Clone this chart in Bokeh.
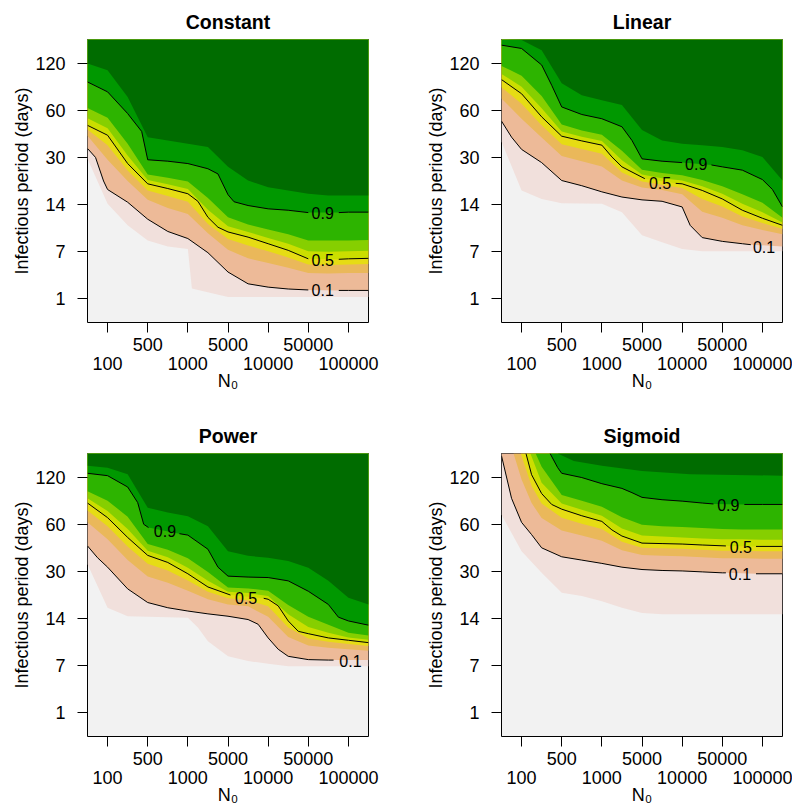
from bokeh.plotting import figure
from bokeh.models import Range1d, FixedTicker, LinearAxis
from bokeh.layouts import gridplot
from bokeh.core.properties import value
from bokeh.embed import file_html
from bokeh.resources import INLINE

FONT = "Liberation Sans"
X_MIN, X_MAX, Y_MIN, Y_MAX = 0.5, 7.5, 0.5, 6.5

# ---------------- data ----------------
n0_ticks = [1, 2, 3, 4, 5, 6, 7]
n0_labels = ["100", "500", "1000", "5000", "10000", "50000", "100000"]
period_ticks = [1, 2, 3, 4, 5, 6]
period_labels = ["1", "7", "14", "30", "60", "120"]
titles = ["Constant", "Linear", "Power", "Sigmoid"]

# probability levels whose boundaries were traced, and the fill above each
levels = [0.02, 0.1, 0.3, 0.4, 0.5, 0.6, 0.7, 0.9, 0.97]
level_colors = ["#F1E0DC", "#EDBA98", "#EAB85A", "#E6DC14", "#CBDE00",
                "#86CF00", "#2DB400", "#009800", "#006C00"]
contour_levels = [0.1, 0.5, 0.9]
contour_texts = ["0.1", "0.5", "0.9"]

knots = [0.5, 1.0, 1.5, 2.0, 2.5, 3.0, 3.5, 4.0, 4.5, 5.0, 5.5, 6.0, 6.5, 7.0, 7.5]

# --- Constant ---
const_002_x = [0.5, 1.0, 1.5, 2.0, 2.5, 3.0, 3.1, 3.6, 4.0, 7.5]
const_002_y = [3.97, 3.02, 2.56, 2.24, 2.11, 2.06, 1.22, 1.12, 1.04, 1.04]
const_01_x = [0.5, 0.7, 0.9, 1.0, 1.5, 2.0, 2.5, 3.0, 3.5, 4.0, 4.5, 5.0, 5.5, 6.0, 6.76, 7.0, 7.5]
const_01_y = [4.19, 4.00, 3.50, 3.32, 3.05, 2.69, 2.43, 2.28, 1.98, 1.57, 1.32, 1.25, 1.21, 1.19, 1.18, 1.18, 1.18]
const_03_y = [4.46, 3.95, 3.50, 3.10, 2.93, 2.80, 2.39, 2.04, 1.86, 1.76, 1.66, 1.55, 1.54, 1.55, 1.55]
const_04_y = [4.59, 4.26, 3.72, 3.30, 3.18, 3.06, 2.59, 2.27, 2.13, 2.01, 1.88, 1.73, 1.72, 1.73, 1.74]
const_05_x = [0.5, 1.0, 1.5, 2.0, 2.5, 3.0, 3.25, 3.5, 3.75, 4.0, 4.5, 5.0, 5.5, 6.0, 6.76, 7.0, 7.5]
const_05_y = [4.68, 4.47, 3.87, 3.44, 3.34, 3.23, 3.07, 2.73, 2.52, 2.42, 2.31, 2.17, 2.03, 1.85, 1.84, 1.85, 1.86]
const_06_y = [4.83, 4.62, 4.04, 3.52, 3.43, 3.33, 2.89, 2.54, 2.42, 2.29, 2.17, 2.01, 2.00, 2.01, 2.02]
const_07_y = [5.05, 4.84, 4.29, 3.64, 3.57, 3.49, 3.14, 2.73, 2.58, 2.47, 2.37, 2.24, 2.24, 2.24, 2.25]
const_09_x = [0.5, 1.0, 1.5, 1.85, 2.0, 2.5, 3.0, 3.5, 3.75, 4.0, 4.15, 4.5, 5.0, 5.5, 6.0, 6.76, 7.0, 7.5]
const_09_y = [5.60, 5.39, 4.93, 4.55, 3.95, 3.92, 3.87, 3.76, 3.65, 3.21, 3.06, 2.98, 2.91, 2.88, 2.83, 2.83, 2.84, 2.84]
const_097_y = [5.99, 5.85, 5.28, 4.43, 4.36, 4.29, 4.22, 3.80, 3.51, 3.37, 3.30, 3.23, 3.19, 3.19, 3.19]
const_label_x = [6.36, 6.36, 6.36]
const_label_y = [1.18, 1.83, 2.82]
const_gap_from = [6.0, 6.0, 6.0]
const_gap_to = [6.76, 6.76, 6.76]

# --- Linear ---
lin_002_x = [0.5, 1.0, 1.5, 2.0, 3.0, 3.5, 4.0, 4.5, 5.0, 5.5, 7.5]
lin_002_y = [4.33, 3.30, 3.12, 3.03, 3.02, 2.84, 2.35, 2.20, 2.06, 2.01, 2.01]
lin_01_x = [0.5, 0.75, 1.0, 1.5, 2.0, 2.5, 3.0, 3.5, 4.0, 4.5, 5.0, 5.2, 5.5, 6.0, 6.5, 6.71, 7.5]
lin_01_y = [4.77, 4.43, 4.17, 3.89, 3.51, 3.40, 3.27, 3.16, 3.10, 3.07, 2.95, 2.56, 2.30, 2.22, 2.17, 2.15, 2.11]
lin_03_y = [5.25, 4.82, 4.42, 4.03, 3.92, 3.81, 3.51, 3.36, 3.31, 3.22, 2.85, 2.72, 2.56, 2.46, 2.37]
lin_04_y = [5.49, 5.14, 4.68, 4.28, 4.18, 4.08, 3.68, 3.49, 3.42, 3.35, 3.12, 2.96, 2.75, 2.61, 2.48]
lin_05_x = [0.5, 1.0, 1.5, 2.0, 2.5, 3.0, 3.25, 3.5, 4.0, 4.07, 4.84, 5.0, 5.5, 6.0, 6.5, 7.0, 7.5]
lin_05_y = [5.65, 5.35, 4.86, 4.45, 4.35, 4.26, 4.01, 3.80, 3.58, 3.55, 3.45, 3.44, 3.30, 3.12, 2.88, 2.71, 2.56]
lin_06_y = [5.77, 5.50, 5.04, 4.55, 4.44, 4.35, 3.94, 3.64, 3.56, 3.51, 3.39, 3.23, 3.02, 2.84, 2.62]
lin_07_y = [5.94, 5.73, 5.30, 4.70, 4.57, 4.48, 4.14, 3.74, 3.67, 3.62, 3.52, 3.39, 3.22, 3.04, 2.72]
lin_09_x = [0.5, 1.0, 1.5, 1.75, 2.0, 2.5, 3.0, 3.5, 3.75, 4.0, 4.5, 5.0, 5.73, 6.0, 6.5, 7.0, 7.25, 7.5]
lin_09_y = [6.38, 6.31, 5.96, 5.53, 5.07, 4.91, 4.82, 4.65, 4.36, 3.97, 3.92, 3.89, 3.84, 3.80, 3.73, 3.53, 3.32, 2.95]
lin_097_y = [6.50, 6.49, 6.27, 5.57, 5.32, 5.21, 5.11, 4.58, 4.36, 4.29, 4.26, 4.22, 4.15, 4.01, 3.51]
lin_label_x = [7.04, 4.45, 5.35]
lin_label_y = [2.11, 3.46, 3.85]
lin_gap_from = [6.71, 4.07, 5.0]
lin_gap_to = [7.5, 4.84, 5.73]

# --- Power ---
pow_002_x = [0.5, 1.0, 1.5, 3.0, 3.25, 3.5, 4.0, 4.5, 5.0, 5.5, 7.5]
pow_002_y = [4.15, 3.23, 3.05, 3.02, 2.81, 2.52, 2.20, 2.10, 2.04, 1.99, 1.99]
pow_01_x = [0.5, 0.75, 1.0, 1.5, 2.0, 2.5, 3.0, 3.5, 4.0, 4.5, 4.75, 5.0, 5.25, 5.5, 6.0, 6.5, 6.63, 7.5]
pow_01_y = [4.54, 4.29, 4.09, 3.63, 3.34, 3.23, 3.16, 3.10, 3.05, 2.98, 2.88, 2.59, 2.35, 2.20, 2.13, 2.12, 2.12, 2.12]
pow_03_y = [5.04, 4.68, 4.24, 3.89, 3.76, 3.59, 3.41, 3.30, 3.26, 3.04, 2.61, 2.43, 2.38, 2.35, 2.32]
pow_04_y = [5.29, 4.96, 4.53, 4.16, 4.02, 3.81, 3.57, 3.43, 3.39, 3.26, 2.81, 2.58, 2.51, 2.46, 2.42]
pow_05_x = [0.5, 1.0, 1.5, 2.0, 2.5, 3.0, 3.5, 4.06, 4.89, 5.0, 5.25, 5.5, 5.75, 6.0, 6.5, 7.0, 7.5]
pow_05_y = [5.45, 5.14, 4.72, 4.34, 4.19, 3.95, 3.67, 3.50, 3.43, 3.41, 3.27, 2.95, 2.73, 2.68, 2.59, 2.54, 2.49]
pow_06_y = [5.55, 5.28, 4.90, 4.44, 4.30, 4.08, 3.80, 3.57, 3.54, 3.48, 3.09, 2.82, 2.70, 2.60, 2.55]
pow_07_y = [5.70, 5.50, 5.16, 4.58, 4.46, 4.28, 3.99, 3.66, 3.64, 3.59, 3.29, 3.04, 2.87, 2.70, 2.64]
pow_09_x = [0.5, 1.0, 1.5, 1.75, 1.9, 2.02, 2.79, 3.0, 3.5, 3.75, 4.0, 4.5, 5.0, 5.5, 6.0, 6.5, 6.75, 7.0, 7.5]
pow_09_y = [6.08, 6.03, 5.79, 5.46, 5.00, 4.93, 4.80, 4.77, 4.47, 4.09, 3.90, 3.88, 3.87, 3.80, 3.58, 3.30, 3.03, 2.95, 2.86]
pow_097_y = [6.24, 6.20, 6.06, 5.35, 5.25, 5.17, 4.96, 4.43, 4.33, 4.29, 4.22, 4.08, 3.80, 3.44, 3.30]
pow_label_x = [7.05, 4.45, 2.43]
pow_label_y = [2.10, 3.44, 4.86]
pow_gap_from = [6.63, 4.06, 2.02]
pow_gap_to = [7.5, 4.89, 2.79]

# --- Sigmoid ---
sig_002_y = [5.20, 4.43, 3.97, 3.55, 3.48, 3.37, 3.23, 3.12, 3.09, 3.09, 3.09, 3.09, 3.09, 3.09, 3.09]
sig_01_x = [0.5, 0.75, 1.0, 1.25, 1.5, 2.0, 2.5, 3.0, 3.5, 4.0, 4.5, 5.0, 5.5, 6.0, 6.09, 6.84, 7.5]
sig_01_y = [6.45, 5.55, 5.04, 4.78, 4.50, 4.31, 4.24, 4.17, 4.09, 4.04, 4.02, 4.01, 3.99, 3.97, 3.97, 3.95, 3.95]
sig_03_x = [0.8, 1.0, 1.25, 1.5, 2.0, 2.5, 3.0, 3.5, 4.0, 4.5, 5.0, 5.5, 6.0, 6.5, 7.0, 7.5]
sig_03_y = [6.50, 5.95, 5.45, 5.13, 4.87, 4.76, 4.65, 4.45, 4.35, 4.33, 4.32, 4.30, 4.28, 4.28, 4.27, 4.27]
sig_04_x = [0.98, 1.25, 1.5, 2.0, 2.5, 3.0, 3.5, 4.0, 4.5, 5.0, 5.5, 6.0, 6.5, 7.0, 7.5]
sig_04_y = [6.50, 5.81, 5.44, 5.14, 5.01, 4.90, 4.63, 4.50, 4.49, 4.48, 4.46, 4.44, 4.44, 4.43, 4.43]
sig_05_x = [1.11, 1.25, 1.5, 1.75, 2.0, 2.5, 3.0, 3.25, 3.5, 4.0, 4.5, 5.0, 5.5, 6.09, 6.84, 7.5]
sig_05_y = [6.50, 6.05, 5.65, 5.42, 5.32, 5.18, 5.06, 4.88, 4.75, 4.60, 4.59, 4.58, 4.56, 4.54, 4.53, 4.53]
sig_06_x = [1.22, 1.5, 2.0, 2.5, 3.0, 3.5, 4.0, 4.5, 5.0, 5.5, 6.0, 6.5, 7.0, 7.5]
sig_06_y = [6.50, 5.88, 5.44, 5.31, 5.18, 4.91, 4.76, 4.74, 4.72, 4.70, 4.68, 4.68, 4.67, 4.67]
sig_07_x = [1.35, 1.5, 2.0, 2.5, 3.0, 3.5, 4.0, 4.5, 5.0, 5.5, 6.0, 6.5, 7.0, 7.5]
sig_07_y = [6.50, 6.22, 5.62, 5.50, 5.37, 5.15, 4.99, 4.96, 4.94, 4.92, 4.90, 4.89, 4.89, 4.89]
sig_09_x = [1.71, 1.9, 2.0, 2.5, 3.0, 3.5, 3.75, 4.0, 4.5, 5.0, 5.5, 5.78, 6.55, 7.0, 7.5]
sig_09_y = [6.50, 6.20, 6.08, 5.99, 5.86, 5.76, 5.67, 5.57, 5.52, 5.49, 5.45, 5.43, 5.42, 5.42, 5.42]
sig_097_x = [1.9, 2.3, 3.0, 4.0, 5.2, 7.5]
sig_097_y = [6.50, 6.34, 6.24, 6.13, 6.06, 6.03]
sig_label_x = [6.44, 6.46, 6.15]
sig_label_y = [3.94, 4.52, 5.40]
sig_gap_from = [6.09, 6.09, 5.78]
sig_gap_to = [6.84, 6.84, 6.55]

panels = [
    dict(curves=[(const_002_x, const_002_y), (const_01_x, const_01_y), (knots, const_03_y),
                 (knots, const_04_y), (const_05_x, const_05_y), (knots, const_06_y),
                 (knots, const_07_y), (const_09_x, const_09_y), (knots, const_097_y)],
         lx=const_label_x, ly=const_label_y, g0=const_gap_from, g1=const_gap_to),
    dict(curves=[(lin_002_x, lin_002_y), (lin_01_x, lin_01_y), (knots, lin_03_y),
                 (knots, lin_04_y), (lin_05_x, lin_05_y), (knots, lin_06_y),
                 (knots, lin_07_y), (lin_09_x, lin_09_y), (knots, lin_097_y)],
         lx=lin_label_x, ly=lin_label_y, g0=lin_gap_from, g1=lin_gap_to),
    dict(curves=[(pow_002_x, pow_002_y), (pow_01_x, pow_01_y), (knots, pow_03_y),
                 (knots, pow_04_y), (pow_05_x, pow_05_y), (knots, pow_06_y),
                 (knots, pow_07_y), (pow_09_x, pow_09_y), (knots, pow_097_y)],
         lx=pow_label_x, ly=pow_label_y, g0=pow_gap_from, g1=pow_gap_to),
    dict(curves=[(knots, sig_002_y), (sig_01_x, sig_01_y), (sig_03_x, sig_03_y),
                 (sig_04_x, sig_04_y), (sig_05_x, sig_05_y), (sig_06_x, sig_06_y),
                 (sig_07_x, sig_07_y), (sig_09_x, sig_09_y), (sig_097_x, sig_097_y)],
         lx=sig_label_x, ly=sig_label_y, g0=sig_gap_from, g1=sig_gap_to),
]

# ---------------- layout (pixels) ----------------
FRAME_W, FRAME_H = 281, 283


def style_axis(ax):
    ax.axis_line_color = None
    ax.major_tick_in = 0
    ax.major_tick_line_color = "black"
    ax.minor_tick_line_color = None
    ax.major_label_text_font = FONT
    ax.major_label_text_font_size = "18px"
    ax.major_label_text_color = "black"
    ax.axis_label_text_font = FONT
    ax.axis_label_text_font_size = "18px"
    ax.axis_label_text_font_style = "normal"
    ax.axis_label_text_color = "black"


figs = []
for i, spec in enumerate(panels):
    col, row = i % 2, i // 2
    left = 87 if col == 0 else 80
    right = 53 if col == 0 else 10
    top = 39 if row == 0 else 38
    bottom = 93 if row == 0 else 72

    p = figure(width=left + FRAME_W + right, height=top + FRAME_H + bottom,
               x_range=Range1d(X_MIN, X_MAX), y_range=Range1d(Y_MIN, Y_MAX),
               output_backend="svg", toolbar_location=None,
               min_border_left=left, min_border_right=right,
               min_border_top=top, min_border_bottom=bottom,
               title=titles[i])
    p.background_fill_color = "#F2F2F2"
    p.border_fill_color = "white"
    p.outline_line_color = "black"
    p.outline_line_width = 1
    p.xgrid.visible = False
    p.ygrid.visible = False

    p.title.align = "center"
    p.title.text_font = FONT
    p.title.text_font_size = "19.5px"
    p.title.text_font_style = "bold"
    p.title.text_color = "black"
    p.title.standoff = 13

    # filled probability bands, low to high
    for (xs, ys), colr in zip(spec["curves"], level_colors):
        px = list(xs) + [X_MAX, xs[0]]
        py = list(ys) + [Y_MAX, Y_MAX]
        p.patch(px, py, fill_color=colr, line_color=None)

    # contour lines 0.1, 0.5, 0.9 with a gap for their labels
    for k, lev in enumerate(contour_levels):
        xs, ys = spec["curves"][levels.index(lev)]
        g0, g1 = spec["g0"][k], spec["g1"][k]
        pieces_x, pieces_y = [], []
        a = [(x, y) for x, y in zip(xs, ys) if x <= g0 + 1e-9]
        b = [(x, y) for x, y in zip(xs, ys) if x >= g1 - 1e-9]
        for seg in (a, b):
            if len(seg) >= 2:
                pieces_x.append([s[0] for s in seg])
                pieces_y.append([s[1] for s in seg])
        p.multi_line(pieces_x, pieces_y, line_color="black", line_width=1)

    p.text(x=spec["lx"], y=spec["ly"], text=contour_texts,
           text_font=value(FONT), text_font_size="16px",
           text_align="center", text_baseline="middle", text_color="black")

    # x axis: first (upper) row of staggered labels with the ticks
    xa = p.xaxis[0]
    style_axis(xa)
    xa.ticker = FixedTicker(ticks=n0_ticks)
    xa.major_label_overrides = {t: (lab if t % 2 == 0 else "") for t, lab in zip(n0_ticks, n0_labels)}
    xa.major_tick_out = 10
    xa.major_label_standoff = 5

    # x axis: second (lower) row of labels and the axis title
    xb = LinearAxis(ticker=FixedTicker(ticks=n0_ticks))
    style_axis(xb)
    xb.major_label_overrides = {t: (lab if t % 2 == 1 else "") for t, lab in zip(n0_ticks, n0_labels)}
    xb.major_tick_out = 0
    xb.major_tick_line_color = None
    xb.major_label_standoff = 3
    xb.axis_label = "N\u2080"
    xb.axis_label_standoff = -2
    p.add_layout(xb, "below")

    ya = p.yaxis[0]
    style_axis(ya)
    ya.ticker = FixedTicker(ticks=period_ticks)
    ya.major_label_overrides = {t: lab for t, lab in zip(period_ticks, period_labels)}
    ya.major_tick_out = 10
    ya.major_label_standoff = 12
    ya.axis_label = "Infectious period (days)"
    ya.axis_label_standoff = 0
    figs.append(p)

grid = gridplot([[figs[0], figs[1]], [figs[2], figs[3]]], toolbar_location=None)
open("out.html", "w").write(file_html(grid, INLINE))
